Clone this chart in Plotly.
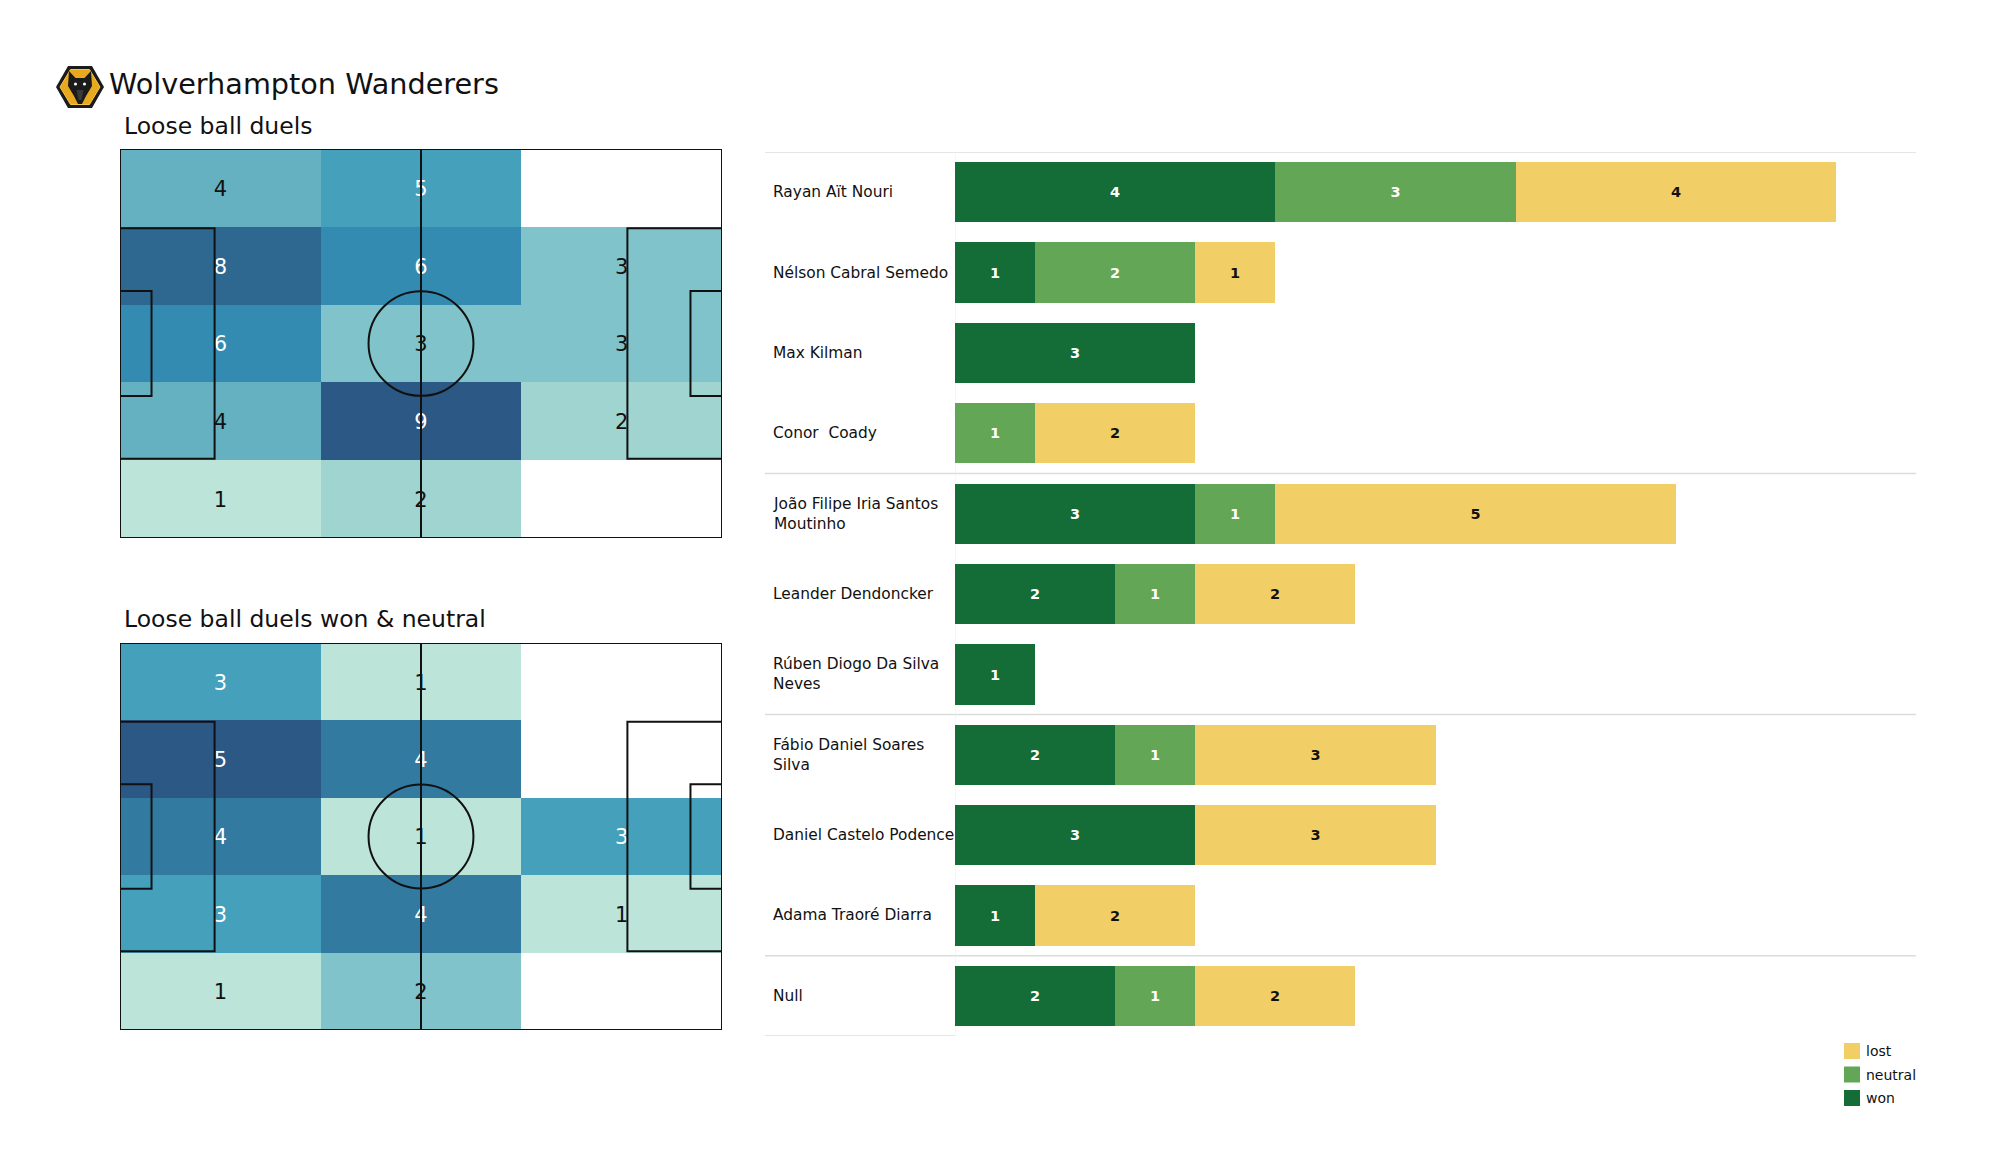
import plotly.graph_objects as go

# ---------------- data ----------------
team_name = "Wolverhampton Wanderers"
heat_title_1 = "Loose ball duels"
heat_title_2 = "Loose ball duels won & neutral"

# pitch grid: rows listed top -> bottom, columns left -> right (0 = no duels)
duels_all = [
    [4, 5, 0],
    [8, 6, 3],
    [6, 3, 3],
    [4, 9, 2],
    [1, 2, 0],
]
duels_won_neutral = [
    [3, 1, 0],
    [5, 4, 0],
    [4, 1, 3],
    [3, 4, 1],
    [1, 2, 0],
]

players = [
    "Rayan Aït Nouri",
    "Nélson Cabral Semedo",
    "Max Kilman",
    "Conor  Coady",
    "João Filipe Iria Santos<br>Moutinho",
    "Leander Dendoncker",
    "Rúben Diogo Da Silva<br>Neves",
    "Fábio Daniel Soares<br>Silva",
    "Daniel Castelo Podence",
    "Adama Traoré Diarra",
    "Null",
]
groups = ["DEF"] * 4 + ["MID"] * 3 + ["FWD"] * 3 + ["NULL"]
won = [4, 1, 3, 0, 3, 2, 1, 2, 3, 1, 2]
neutral = [3, 2, 0, 1, 1, 1, 0, 1, 0, 0, 1]
lost = [4, 1, 0, 2, 5, 2, 0, 3, 3, 2, 2]
outcomes = ["won", "neutral", "lost"]

# ---------------- styling ----------------
OFF = 8                      # page body margin in the browser
W, H = 2000 - OFF, 1175 - OFF
FONT = "DejaVu Sans"
C_WON, C_NEU, C_LOST = "#146c37", "#62a656", "#f2cf66"
heat_scale = [
    [0.0, "#bde4d9"], [0.125, "#9fd4d1"], [0.25, "#81c3ca"], [0.375, "#65b1c2"],
    [0.5, "#45a0bb"], [0.625, "#348bb1"], [0.75, "#337aa0"], [0.875, "#2e6890"],
    [1.0, "#2c5886"],
]


def px(x):
    return (x - OFF) / W


def py(y):
    return 1 - (y - OFF) / H


PITCH_L, PITCH_W = 105.0, 68.0
TEXT_NUDGE = 0.45   # visual centring of digits (pitch metres)
fig = go.Figure()
shapes = []
annotations = []


def pitch_shapes(xr, yr):
    ln = dict(color="#111111", width=2)
    s = []
    def rect(x0, y0, x1, y1):
        s.append(dict(type="rect", xref=xr, yref=yr, x0=x0, y0=y0, x1=x1, y1=y1,
                      line=ln, fillcolor="rgba(0,0,0,0)", layer="above"))
    rect(0, 0, PITCH_L, PITCH_W)
    s.append(dict(type="line", xref=xr, yref=yr, x0=PITCH_L / 2, x1=PITCH_L / 2,
                  y0=0, y1=PITCH_W, line=ln, layer="above"))
    r = 9.15
    s.append(dict(type="circle", xref=xr, yref=yr, x0=PITCH_L / 2 - r, x1=PITCH_L / 2 + r,
                  y0=PITCH_W / 2 - r, y1=PITCH_W / 2 + r, line=ln, layer="above"))
    pb_h, sb_h = 40.32, 18.32
    rect(0, PITCH_W / 2 - pb_h / 2, 16.5, PITCH_W / 2 + pb_h / 2)
    rect(PITCH_L - 16.5, PITCH_W / 2 - pb_h / 2, PITCH_L, PITCH_W / 2 + pb_h / 2)
    rect(0, PITCH_W / 2 - sb_h / 2, 5.5, PITCH_W / 2 + sb_h / 2)
    rect(PITCH_L - 5.5, PITCH_W / 2 - sb_h / 2, PITCH_L, PITCH_W / 2 + sb_h / 2)
    return s


def add_heat(grid, xa, ya):
    nrows, ncols = len(grid), len(grid[0])
    cw, ch = PITCH_L / ncols, PITCH_W / nrows
    xc = [cw * (i + 0.5) for i in range(ncols)]
    yc = [PITCH_W - ch * (j + 0.5) for j in range(nrows)]  # top -> bottom
    vals = [v for row in grid for v in row if v > 0]
    vmin, vmax = min(vals), max(vals)
    z = [[(v if v > 0 else None) for v in row] for row in grid]
    fig.add_trace(go.Heatmap(
        z=z[::-1], x=xc, y=yc[::-1], xaxis=xa, yaxis=ya,
        colorscale=heat_scale, zmin=vmin, zmax=vmax, showscale=False,
        hoverinfo="skip", xgap=0, ygap=0,
    ))
    tx, ty, tt, tc = [], [], [], []
    for j, row in enumerate(grid):
        for i, v in enumerate(row):
            if v > 0:
                tx.append(xc[i]); ty.append(yc[j] - TEXT_NUDGE); tt.append(str(v))
                frac = (v - vmin) / (vmax - vmin) if vmax > vmin else 0
                tc.append("white" if frac >= 0.45 else "#111111")
    fig.add_trace(go.Scatter(
        x=tx, y=ty, text=tt, mode="text", xaxis=xa, yaxis=ya,
        textfont=dict(family=FONT, size=21, color=tc),
        hoverinfo="skip", showlegend=False,
    ))


add_heat(duels_all, "x", "y")
add_heat(duels_won_neutral, "x2", "y2")
shapes += pitch_shapes("x", "y")
shapes += pitch_shapes("x2", "y2")

# ---------------- bars ----------------
ypos = list(range(len(players)))
for name, vals, col, tcol in [("won", won, C_WON, "white"),
                              ("neutral", neutral, C_NEU, "white"),
                              ("lost", lost, C_LOST, "#111111")]:
    fig.add_trace(go.Bar(
        x=vals, y=ypos, orientation="h", width=0.75, name=name,
        marker=dict(color=col, line=dict(width=0)),
        text=[str(v) if v > 0 else "" for v in vals],
        textposition="inside", insidetextanchor="middle", textangle=0,
        constraintext="none",
        textfont=dict(family=FONT, size=14.5, color=tcol, weight="bold"),
        xaxis="x3", yaxis="y3", hoverinfo="skip", showlegend=False,
    ))

for i, p in enumerate(players):
    annotations.append(dict(
        x=px(771), xref="paper", y=ypos[i], yref="y3", text=p, showarrow=False,
        xanchor="left", yanchor="middle", align="left",
        font=dict(family=FONT, size=15.4, color="#111111"),
    ))

# group separators
bounds = [-0.5]
for i in range(1, len(groups)):
    if groups[i] != groups[i - 1]:
        bounds.append(i - 0.5)
for b in bounds:
    shapes.append(dict(type="line", xref="paper", yref="y3", x0=px(765), x1=px(1916),
                       y0=b, y1=b, line=dict(color="#dcdcdc", width=1.5), layer="below"))
shapes.append(dict(type="line", xref="paper", yref="y3", x0=px(765), x1=px(955),
                   y0=len(players) - 0.5, y1=len(players) - 0.5,
                   line=dict(color="#dcdcdc", width=1.5), layer="below"))
shapes.append(dict(type="line", xref="x3", yref="y3", x0=0, x1=0,
                   y0=-0.5, y1=len(players) - 0.5,
                   line=dict(color="#efefef", width=1), layer="below"))

# legend (manual)
for k, (lab, col) in enumerate([("lost", C_LOST), ("neutral", C_NEU), ("won", C_WON)]):
    cy = 1051 + k * 23.5
    shapes.append(dict(type="rect", xref="paper", yref="paper",
                       x0=px(1844), x1=px(1860), y0=py(cy - 8), y1=py(cy + 8),
                       fillcolor=col, line=dict(width=0)))
    annotations.append(dict(x=px(1864), y=py(cy), xref="paper", yref="paper", text=lab,
                            showarrow=False, xanchor="left", yanchor="middle",
                            font=dict(family=FONT, size=14, color="#111111")))

# ---------------- titles & logo ----------------
annotations.append(dict(x=px(107), y=py(84), xref="paper", yref="paper", text=team_name,
                        showarrow=False, xanchor="left", yanchor="middle",
                        font=dict(family=FONT, size=28.7, color="#111111")))
annotations.append(dict(x=px(122), y=py(125.5), xref="paper", yref="paper", text=heat_title_1,
                        showarrow=False, xanchor="left", yanchor="middle",
                        font=dict(family=FONT, size=23.5, color="#111111")))
annotations.append(dict(x=px(122), y=py(619), xref="paper", yref="paper", text=heat_title_2,
                        showarrow=False, xanchor="left", yanchor="middle",
                        font=dict(family=FONT, size=23.5, color="#111111")))


def ppath(pts):
    return "M " + " L ".join(f"{px(x):.5f},{py(y):.5f}" for x, y in pts) + " Z"


hexo = [(56, 87), (68, 66), (92, 66), (104, 87), (92, 108), (68, 108)]
hexi = [(60, 87), (70.5, 69.5), (89.5, 69.5), (100, 87), (89.5, 104.5), (70.5, 104.5)]
head = [(69, 71), (75.5, 78), (84.5, 78), (91, 71), (92, 86), (86, 96), (82, 104),
        (78, 104), (74, 96), (68, 86)]
snout = [(76.5, 90), (83.5, 90), (81.5, 100), (78.5, 100)]
shapes.append(dict(type="path", xref="paper", yref="paper", path=ppath(hexo),
                   fillcolor="#1b1b1b", line=dict(width=0)))
shapes.append(dict(type="path", xref="paper", yref="paper", path=ppath(hexi),
                   fillcolor="#e9a91f", line=dict(color="#f6c64a", width=1)))
shapes.append(dict(type="path", xref="paper", yref="paper", path=ppath(head),
                   fillcolor="#1b1b1b", line=dict(width=0)))
shapes.append(dict(type="path", xref="paper", yref="paper", path=ppath(snout),
                   fillcolor="#3a3a3a", line=dict(width=0)))
for ex in (75.5, 84.5):
    shapes.append(dict(type="circle", xref="paper", yref="paper",
                       x0=px(ex - 1.6), x1=px(ex + 1.6), y0=py(85.6), y1=py(82.4),
                       fillcolor="#f4f4f4", line=dict(width=0)))

# ---------------- layout ----------------
hidden = dict(visible=False, showgrid=False, zeroline=False, fixedrange=True)
fig.update_layout(
    width=W, height=H, margin=dict(l=0, r=0, t=0, b=0),
    paper_bgcolor="white", plot_bgcolor="white",
    barmode="stack", bargap=0, showlegend=False,
    font=dict(family=FONT, color="#111111"),
    xaxis=dict(domain=[px(120), px(722)], range=[0, PITCH_L], **hidden),
    yaxis=dict(domain=[py(538), py(149)], range=[0, PITCH_W], **hidden),
    xaxis2=dict(domain=[px(120), px(722)], range=[0, PITCH_L], **hidden),
    yaxis2=dict(domain=[py(1030), py(643)], range=[0, PITCH_W], **hidden),
    xaxis3=dict(domain=[px(955), px(1916)], range=[0, 12], **hidden),
    yaxis3=dict(domain=[py(1036), py(152)], range=[len(players) - 0.5, -0.5], **hidden),
    shapes=shapes, annotations=annotations,
)

fig.write_html("out.html")
